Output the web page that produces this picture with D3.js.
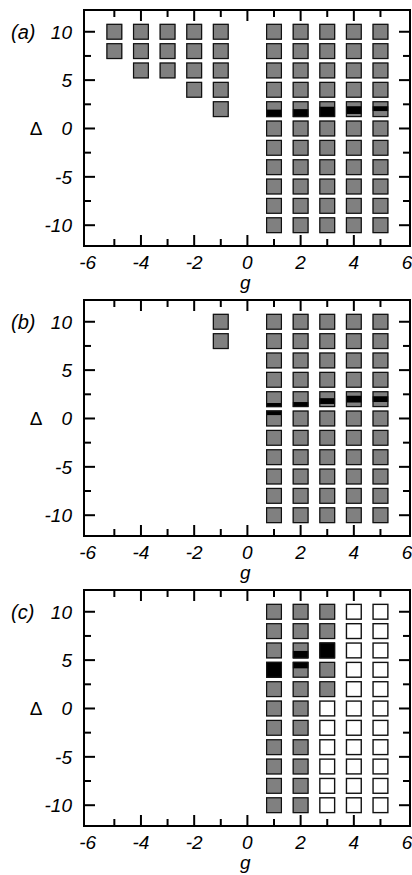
<!DOCTYPE html>
<html>
<head>
<meta charset="utf-8">
<script src="https://cdn.jsdelivr.net/npm/d3@7"></script>
<style>
  html, body { margin: 0; padding: 0; background: #fff; }
  svg { display: block; }
  text { font-family: "Liberation Sans", Arial, Helvetica, sans-serif; fill: #000; }
</style>
</head>
<body>
<svg id="chart" width="412" height="875"></svg>
<script>
// Coupling g (columns) and detuning Δ (rows) of the scanned parameter grid
const gValues = [-5, -4, -3, -2, -1, 1, 2, 3, 4, 5];
const deltaValues = [10, 8, 6, 4, 2, 0, -2, -4, -6, -8, -10];

// Cell state for every g column, read from Δ = 10 down to Δ = -10:
// "G" = grey cell, "W" = open cell, "." = no cell
const statesA = [
  "GG.........", "GGG........", "GGG........", "GGGG.......", "GGGGG......",
  "GGGGGGGGGGG", "GGGGGGGGGGG", "GGGGGGGGGGG", "GGGGGGGGGGG", "GGGGGGGGGGG"
];
const statesB = [
  "...........", "...........", "...........", "...........", "GG.........",
  "GGGGGGGGGGG", "GGGGGGGGGGG", "GGGGGGGGGGG", "GGGGGGGGGGG", "GGGGGGGGGGG"
];
const statesC = [
  "...........", "...........", "...........", "...........", "...........",
  "GGGGGGGGGGG", "GGGGGGGGGGG", "GGGGGWWWWWW", "WWWWWWWWWWW", "WWWWWWWWWWW"
];

// Black bands: Δ interval (low, high) at a given g, shown inside the cells
const bandGA = [1, 2, 3, 4, 5];
const bandLowA = [1.1, 1.1, 1.25, 1.5, 1.8];
const bandHighA = [1.95, 2.0, 2.25, 2.3, 2.3];

const bandGB = [1, 2, 3, 4, 5];
const bandLowB = [0.35, 1.2, 1.5, 1.65, 1.7];
const bandHighB = [1.6, 1.7, 2.1, 2.35, 2.3];

const bandGC = [1, 2, 3];
const bandLowC = [3.1, 4.15, 5.1];
const bandHighC = [4.9, 5.95, 6.9];

const panelLabels = ["(a)", "(b)", "(c)"];

// Axis ticks
const gMajorTicks = [-4, -2, 0, 2, 4];
const gMinorTicks = [-5, -3, -1, 1, 3, 5];
const gTickLabels = [-6, -4, -2, 0, 2, 4, 6];
const dMajorTicks = [-10, -5, 0, 5, 10];
const dMinorTicks = [-7.5, -2.5, 2.5, 7.5];

const panels = [
  { label: panelLabels[0], states: statesA, bg: bandGA, bl: bandLowA, bh: bandHighA },
  { label: panelLabels[1], states: statesB, bg: bandGB, bl: bandLowB, bh: bandHighB },
  { label: panelLabels[2], states: statesC, bg: bandGC, bl: bandLowC, bh: bandHighC }
];

const svg = d3.select("#chart");
const panelH = 290;
const frame = { left: 84, right: 410, top: 10, bottom: 246 };
const cell = 16;          // marker side in pixels
const majorLen = 11, minorLen = 7;
const fontSize = 19;

const x = d3.scaleLinear().domain([-6.14, 6.11]).range([frame.left, frame.right]);
const y = d3.scaleLinear().domain([-12.15, 12.25]).range([frame.bottom, frame.top]);

panels.forEach((p, pi) => {
  const g = svg.append("g").attr("transform", `translate(0,${pi * panelH})`);

  // cells
  const cells = [];
  p.states.forEach((col, ci) => {
    col.split("").forEach((s, ri) => {
      if (s !== ".") cells.push({ g: gValues[ci], d: deltaValues[ri], s });
    });
  });

  const clipId = "cells-" + pi;
  g.append("clipPath").attr("id", clipId)
    .selectAll("rect").data(cells).join("rect")
    .attr("x", d => x(d.g) - cell / 2)
    .attr("y", d => y(d.d) - cell / 2)
    .attr("width", cell).attr("height", cell);

  g.append("g").selectAll("rect").data(cells).join("rect")
    .attr("x", d => x(d.g) - cell / 2)
    .attr("y", d => y(d.d) - cell / 2)
    .attr("width", cell).attr("height", cell)
    .attr("fill", d => d.s === "G" ? "#808080" : "#ffffff");

  const bands = p.bg.map((gv, i) => ({ g: gv, lo: p.bl[i], hi: p.bh[i] }));
  g.append("g").attr("clip-path", `url(#${clipId})`)
    .selectAll("rect").data(bands).join("rect")
    .attr("x", d => x(d.g) - cell / 2)
    .attr("y", d => y(d.hi))
    .attr("width", cell)
    .attr("height", d => y(d.lo) - y(d.hi))
    .attr("fill", "#000");

  g.append("g").selectAll("rect").data(cells).join("rect")
    .attr("x", d => x(d.g) - cell / 2 + 0.6)
    .attr("y", d => y(d.d) - cell / 2 + 0.6)
    .attr("width", cell - 1.2).attr("height", cell - 1.2)
    .attr("fill", "none")
    .attr("stroke", "#111")
    .attr("stroke-width", d => d.s === "W" ? 1.4 : 1.2);

  // inward ticks on all four sides
  const tickLayer = g.append("g").attr("stroke", "#000").attr("stroke-width", 2);
  const xTicks = gMajorTicks.map(v => ({ v, len: majorLen }))
    .concat(gMinorTicks.map(v => ({ v, len: minorLen })));
  const yTicks = dMajorTicks.map(v => ({ v, len: majorLen }))
    .concat(dMinorTicks.map(v => ({ v, len: minorLen })));

  tickLayer.selectAll("line.xb").data(xTicks).join("line").attr("class", "xb")
    .attr("x1", d => x(d.v)).attr("x2", d => x(d.v))
    .attr("y1", frame.bottom).attr("y2", d => frame.bottom - d.len);
  tickLayer.selectAll("line.xt").data(xTicks).join("line").attr("class", "xt")
    .attr("x1", d => x(d.v)).attr("x2", d => x(d.v))
    .attr("y1", frame.top).attr("y2", d => frame.top + d.len);
  tickLayer.selectAll("line.yl").data(yTicks).join("line").attr("class", "yl")
    .attr("y1", d => y(d.v)).attr("y2", d => y(d.v))
    .attr("x1", frame.left).attr("x2", d => frame.left + d.len);
  tickLayer.selectAll("line.yr").data(yTicks).join("line").attr("class", "yr")
    .attr("y1", d => y(d.v)).attr("y2", d => y(d.v))
    .attr("x1", frame.right).attr("x2", d => frame.right - d.len);

  // frame
  g.append("rect")
    .attr("x", frame.left).attr("y", frame.top)
    .attr("width", frame.right - frame.left).attr("height", frame.bottom - frame.top)
    .attr("fill", "none").attr("stroke", "#000").attr("stroke-width", 2);

  // tick labels
  g.append("g").selectAll("text").data(gTickLabels).join("text")
    .attr("x", d => x(d)).attr("y", frame.bottom + 23)
    .attr("text-anchor", "middle")
    .attr("font-size", fontSize).attr("font-style", "italic")
    .text(d => String(d));

  g.append("g").selectAll("text").data(dMajorTicks).join("text")
    .attr("x", frame.left - 12).attr("y", d => y(d) + 6.8)
    .attr("text-anchor", "end")
    .attr("font-size", fontSize).attr("font-style", "italic")
    .text(d => String(d));

  // axis titles and panel tag
  g.append("text")
    .attr("x", x(0) - 2).attr("y", frame.bottom + 43)
    .attr("text-anchor", "middle")
    .attr("font-size", fontSize).attr("font-style", "italic")
    .text("g");

  g.append("text")
    .attr("x", 36).attr("y", y(0) + 6.8)
    .attr("text-anchor", "middle")
    .attr("font-size", fontSize)
    .text("Δ");

  g.append("text")
    .attr("x", 11).attr("y", y(10) + 6.8)
    .attr("font-size", fontSize + 1).attr("font-style", "italic")
    .text(p.label);
});
</script>
</body>
</html>
